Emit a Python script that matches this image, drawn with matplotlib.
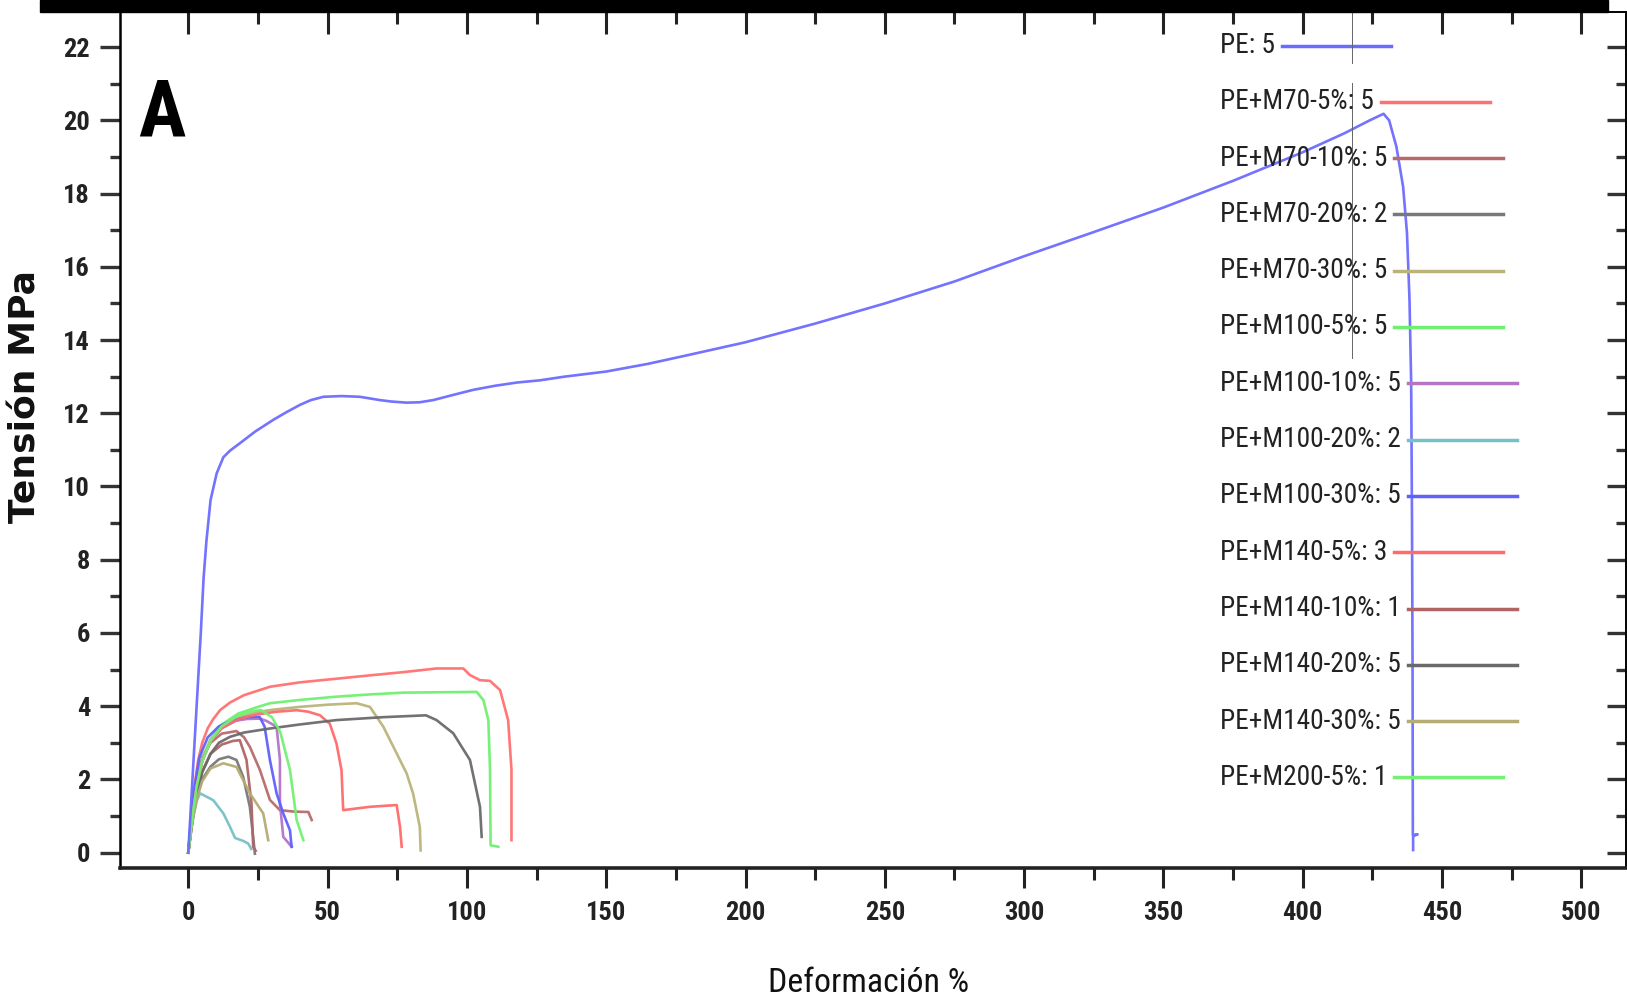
import matplotlib
matplotlib.use("Agg")
import matplotlib.pyplot as plt
from matplotlib import font_manager
from matplotlib.lines import Line2D
from matplotlib.patches import Rectangle
from matplotlib.ticker import MultipleLocator

# --- data ---
labels = ["PE: 5", "PE+M70-5%: 5", "PE+M70-10%: 5", "PE+M70-20%: 2", "PE+M70-30%: 5",
          "PE+M100-5%: 5", "PE+M100-10%: 5", "PE+M100-20%: 2", "PE+M100-30%: 5",
          "PE+M140-5%: 3", "PE+M140-10%: 1", "PE+M140-20%: 5", "PE+M140-30%: 5",
          "PE+M200-5%: 1"]
colors = ["#6b6bff", "#ff7070", "#b86a6a", "#787878", "#bab47a",
          "#70f070", "#b474c8", "#78c0c8", "#6060ff",
          "#ff6a6a", "#b06464", "#6a6a6a", "#b4ac74", "#74f074"]

pe_x = [0, 1.5, 3, 4.5, 5.5, 6.5, 8, 10.2, 12.6, 15, 18.5, 24, 30.5, 35, 40.1, 44, 48.5, 55, 61.6,
        68.8, 73, 78.4, 83, 87.9, 95, 102.3, 110, 118, 126.2, 135, 150, 165, 180, 200, 225, 250,
        275, 300, 325, 350, 375, 400, 415, 424, 429, 431, 433.6, 436, 437.4, 438.3, 438.9, 439.2,
        439.4, 439.5, 441.2, 439.6, 439.6]
pe_y = [0, 2, 4, 6, 7.5, 8.5, 9.63, 10.36, 10.8, 10.98, 11.18, 11.5, 11.82, 12.02, 12.23, 12.36,
        12.45, 12.47, 12.45, 12.36, 12.32, 12.29, 12.3, 12.36, 12.5, 12.64, 12.75, 12.84, 12.9,
        13.0, 13.14, 13.35, 13.6, 13.94, 14.45, 15.0, 15.6, 16.29, 16.95, 17.62, 18.35, 19.13,
        19.65, 20.0, 20.18, 20.0, 19.28, 18.19, 16.92, 15.1, 12.82, 9.0, 5.0, 0.48, 0.5, 0.45, 0.07]

m70_5_x = [0, 1, 2, 3.5, 5, 7, 9, 11.4, 15, 20, 29.3, 40, 53.2, 65, 77.2, 89.1, 98.7, 101.1,
           104.7, 108.3, 111.9, 114.8, 116.0, 116.0]
m70_5_y = [0, 0.9, 1.7, 2.5, 3.0, 3.4, 3.65, 3.89, 4.1, 4.3, 4.53, 4.65, 4.75, 4.84, 4.93, 5.03,
           5.03, 4.85, 4.71, 4.69, 4.44, 3.62, 2.26, 0.34]

m70_10_x = [0, 1.5, 3, 5, 8, 12, 17.3, 20, 22.1, 25.7, 29.3, 32.9, 38, 43.1, 44.3]
m70_10_y = [0, 1.1, 1.9, 2.6, 3.0, 3.25, 3.32, 3.15, 2.89, 2.26, 1.44, 1.16, 1.12, 1.11, 0.89]

m70_20_x = [0, 1.5, 3, 5, 8, 11, 14.4, 17.3, 19.7, 22.1, 23.3, 23.9]
m70_20_y = [0, 0.9, 1.5, 2.0, 2.35, 2.55, 2.62, 2.53, 2.07, 1.25, 0.43, -0.03]

m70_30_x = [0, 1.5, 3, 5, 8, 12, 18, 25, 30, 40, 50, 60.4, 65.2, 70.0, 74.8, 78.4, 80.7, 83.1, 83.4]
m70_30_y = [0, 1.0, 1.8, 2.5, 3.05, 3.45, 3.7, 3.84, 3.9, 3.98, 4.04, 4.08, 3.98, 3.44, 2.71,
            2.16, 1.61, 0.7, 0.06]

m100_5_x = [0, 1.5, 3, 5, 8, 12, 18, 25, 29.3, 40, 53.2, 65, 77.2, 90, 103.5, 105.9, 107.7,
            108.3, 108.5, 111.3]
m100_5_y = [0, 1.0, 1.8, 2.55, 3.1, 3.5, 3.8, 3.98, 4.08, 4.17, 4.26, 4.32, 4.37, 4.38, 4.39,
            4.17, 3.62, 2.26, 0.2, 0.16]

m100_10_x = [0, 1.5, 3, 5, 8, 12, 17, 21, 25.6, 28, 31.7, 32.9, 32.9, 34.1, 37.1]
m100_10_y = [0, 1.0, 1.8, 2.5, 3.05, 3.4, 3.6, 3.65, 3.66, 3.6, 3.44, 2.53, 1.34, 0.43, 0.16]

m100_20_x = [0, 1, 2, 3, 4.2, 6, 9, 12.6, 15, 16.8, 19.7, 21.5, 22.6]
m100_20_y = [0, 0.6, 1.05, 1.4, 1.62, 1.55, 1.43, 1.07, 0.7, 0.4, 0.32, 0.25, 0.1]

m100_30_x = [0, 1.2, 2.5, 4, 7, 11, 16, 21, 25.6, 27.4, 29.3, 31.7, 34.1, 36.5, 37.1]
m100_30_y = [0, 1.1, 1.9, 2.6, 3.15, 3.45, 3.62, 3.7, 3.71, 3.44, 2.53, 1.62, 1.07, 0.61, 0.16]

m140_5_x = [0, 1.5, 3, 5, 8, 12, 18, 25, 32, 38.9, 43, 47.3, 50.8, 53.2, 55.0, 55.6, 65, 74.8,
            76.0, 76.6]
m140_5_y = [0, 1.0, 1.8, 2.5, 3.05, 3.4, 3.65, 3.78, 3.85, 3.89, 3.85, 3.75, 3.52, 2.98, 2.25,
            1.16, 1.25, 1.3, 0.7, 0.16]

m140_10_x = [0, 1.5, 3, 5, 8, 12, 16, 18.5, 20.9, 22.7, 23.3, 24.2]
m140_10_y = [0, 0.9, 1.6, 2.2, 2.7, 2.95, 3.05, 3.07, 2.53, 1.34, 0.16, 0.05]

m140_20_x = [0, 1.5, 3, 5, 8, 11, 14.9, 20, 29.3, 40, 53.2, 70, 85.3, 89.1, 95.1, 101.1, 104.7, 105.3]
m140_20_y = [0, 0.9, 1.6, 2.2, 2.7, 3.0, 3.16, 3.28, 3.39, 3.5, 3.62, 3.7, 3.75, 3.62, 3.26,
             2.53, 1.25, 0.43]

m140_30_x = [0, 1.5, 3, 5, 8, 12.6, 17.3, 22.1, 26.9, 28.7]
m140_30_y = [0, 0.85, 1.45, 1.95, 2.3, 2.44, 2.34, 1.62, 1.07, 0.34]

m200_5_x = [0, 1.5, 3, 5, 8, 12, 17, 22, 26, 30, 33, 36.5, 38.9, 41.3]
m200_5_y = [0, 1.0, 1.8, 2.5, 3.05, 3.45, 3.7, 3.85, 3.9, 3.7, 3.3, 2.26, 0.89, 0.34]

series_x = [pe_x, m70_5_x, m70_10_x, m70_20_x, m70_30_x, m100_5_x, m100_10_x, m100_20_x,
            m100_30_x, m140_5_x, m140_10_x, m140_20_x, m140_30_x, m200_5_x]
series_y = [pe_y, m70_5_y, m70_10_y, m70_20_y, m70_30_y, m100_5_y, m100_10_y, m100_20_y,
            m100_30_y, m140_5_y, m140_10_y, m140_20_y, m140_30_y, m200_5_y]


# --- pick a narrow / condensed font if one is installed ---
def pick_font(bold):
    want = 700 if bold else 400
    prefs = ["Liberation Sans Narrow", "Roboto Condensed", "Noto Sans", "Open Sans", "DejaVu Sans",
             "Roboto", "Liberation Sans"]
    best = None
    for rank, fam in enumerate(prefs):
        for f in font_manager.fontManager.ttflist:
            if not f.name.startswith(fam) or f.style != "normal":
                continue
            w = f.weight if isinstance(f.weight, int) else font_manager.weight_dict.get(f.weight, 400)
            txt = (f.name + " " + str(f.stretch) + " " + f.fname).lower()
            narrow = ("narrow" in txt or "condensed" in txt) and "semi" not in txt and "extra" not in txt
            score = (0 if narrow else 100) + rank * 5 + abs(w - want) / 100
            if best is None or score < best[0]:
                best = (score, f.fname)
    return font_manager.FontProperties(fname=best[1])


reg_fp = pick_font(False)
bold_fp = pick_font(True)

W, H = 1627, 1008
fig = plt.figure(figsize=(W / 100, H / 100), dpi=100)
renderer = fig.canvas.get_renderer()


def sized(fp, text, target_px, cap=None):
    # font size (pt) giving the target pixel width for this text
    t = fig.text(0, 0, text, fontproperties=fp, size=10)
    w = t.get_window_extent(renderer).width
    t.remove()
    s = 10 * target_px / w
    if cap is not None:
        s = min(s, cap)
    p = fp.copy()
    p.set_size(s)
    return p


ax = fig.add_axes([120 / W, 1 - 868 / H, (1626 - 120) / W, (868 - 12) / H])

for i in range(len(labels)):
    ax.plot(series_x[i], series_y[i], color=colors[i], lw=1.9, alpha=0.95, zorder=3 if i == 0 else 2)

ax.set_xlim(-24.5, 516)
ax.set_ylim(-0.42, 22.96)

ax.xaxis.set_major_locator(MultipleLocator(50))
ax.xaxis.set_minor_locator(MultipleLocator(25))
ax.yaxis.set_major_locator(MultipleLocator(2))
ax.yaxis.set_minor_locator(MultipleLocator(1))

ax.tick_params(axis="x", which="major", direction="out", length=14.5, width=2.2, color="#222222", pad=9)
ax.tick_params(axis="x", which="minor", direction="out", length=8.5, width=2.2, color="#222222")
ax.tick_params(axis="y", which="major", direction="out", length=14.5, width=2.4, color="#333333", pad=7)
ax.tick_params(axis="y", which="minor", direction="out", length=7.5, width=2.4, color="#333333")
tick_fp = sized(bold_fp, "500", 40, cap=20)
for lab in ax.get_xticklabels() + ax.get_yticklabels():
    lab.set_fontproperties(tick_fp)
    lab.set_color("#222222")

# inward ticks on top and right
top = ax.secondary_xaxis("top")
top.xaxis.set_major_locator(MultipleLocator(50))
top.xaxis.set_minor_locator(MultipleLocator(25))
top.tick_params(which="major", direction="in", length=16, width=2.2, color="#222222", labeltop=False)
top.tick_params(which="minor", direction="in", length=8.5, width=2.2, color="#222222")
top.spines["top"].set_linewidth(1.2)

right = ax.secondary_yaxis("right")
right.yaxis.set_major_locator(MultipleLocator(2))
right.yaxis.set_minor_locator(MultipleLocator(1))
right.tick_params(which="major", direction="in", length=14, width=2.4, color="#333333", labelright=False)
right.tick_params(which="minor", direction="in", length=7, width=2.4, color="#333333")
right.spines["right"].set_linewidth(1.2)

ax.spines["left"].set_linewidth(1.8)
ax.spines["bottom"].set_linewidth(2.6)
ax.spines["bottom"].set_color("#222222")
ax.spines["top"].set_linewidth(1.2)
ax.spines["right"].set_linewidth(1.2)

# axis titles
fig.text(869 / W, 1 - 983 / H, "Deformación %", fontproperties=sized(reg_fp, "Deformación %", 200, cap=30),
         ha="center", va="center", color="#111111")
fig.text(26 / W, 1 - 397 / H, "Tensión MPa", family="DejaVu Sans", weight="bold", size=26,
         rotation=90, ha="center", va="center", color="#111111")
fig.text(138 / W, 1 - 137 / H, "A", fontproperties=sized(bold_fp, "A", 47, cap=70),
         ha="left", va="baseline", color="black")

# black band at the top
fig.add_artist(Rectangle((40 / W, 1 - 12 / H), (1608 - 40) / W, 12 / H, transform=fig.transFigure,
                         color="black", zorder=5))

# legend: text first, line after it
leg_fp = sized(reg_fp, "PE+M70-5%: 5", 154, cap=30)
for i, lab in enumerate(labels):
    ypix = H - (45.5 + 56.3 * i)
    t = fig.text(1220 / W, ypix / H, lab, fontproperties=leg_fp, ha="left", va="center",
                 color="#222222")
    bb = t.get_window_extent(renderer)
    x0 = bb.x1 + 7
    fig.add_artist(Line2D([x0 / W, (x0 + 109) / W], [ypix / H, ypix / H], transform=fig.transFigure,
                          color=colors[i], lw=2.5))

# stray thin vertical line seen in the reference
fig.add_artist(Line2D([1352 / W, 1352 / W], [1.0, 1 - 63 / H], transform=fig.transFigure, color="#666666", lw=0.7))
fig.add_artist(Line2D([1352 / W, 1352 / W], [1 - 83 / H, 1 - 358 / H], transform=fig.transFigure, color="#666666", lw=0.7))

fig.savefig("out.png", dpi=100)
